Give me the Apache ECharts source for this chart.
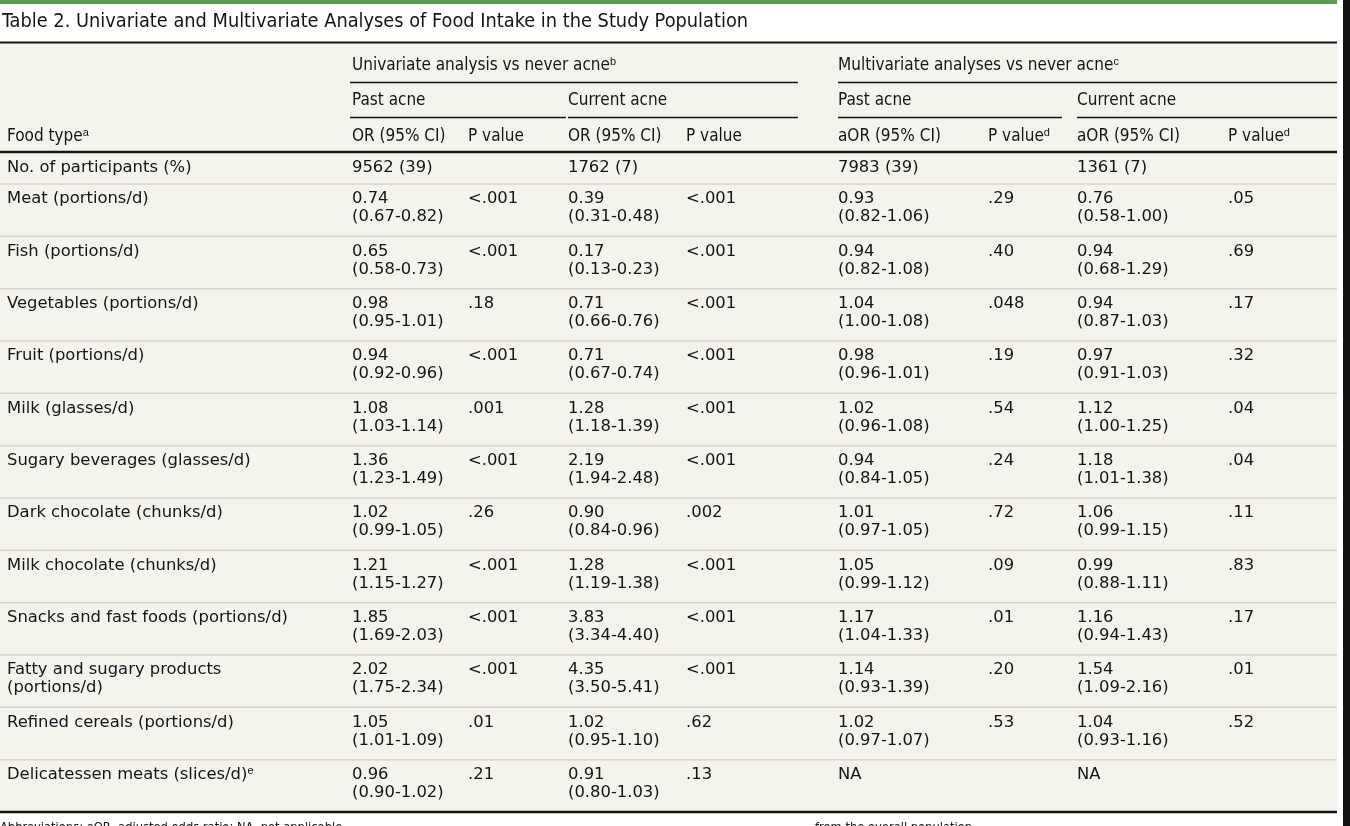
<!DOCTYPE html>
<html><head><meta charset="utf-8">
<script src="https://cdn.jsdelivr.net/npm/echarts@6/dist/echarts.min.js"></script>
<style>html,body{margin:0;padding:0;background:#fff;overflow:hidden}#c{width:1350px;height:826px}</style>
</head><body><div id="c"></div>
<script>
// ---------- data ----------
const title = 'Table 2. Univariate and Multivariate Analyses of Food Intake in the Study Population';
const groupHeaders = ['Univariate analysis vs never acne{sup|b}', 'Multivariate analyses vs never acne{sup|c}'];
const subHeaders = ['Past acne', 'Current acne', 'Past acne', 'Current acne'];
const colHeaders = ['OR (95% CI)', '{it|P} value', 'OR (95% CI)', '{it|P} value', 'aOR (95% CI)', '{it|P} value{sup|d}', 'aOR (95% CI)', '{it|P} value{sup|d}'];
const firstHeader = 'Food type{sup|a}';
const participantsLabel = 'No. of participants (%)';
const participants = ['9562 (39)', '1762 (7)', '7983 (39)', '1361 (7)'];
const foodTypes = [
  'Meat (portions/d)', 'Fish (portions/d)', 'Vegetables (portions/d)', 'Fruit (portions/d)',
  'Milk (glasses/d)', 'Sugary beverages (glasses/d)', 'Dark chocolate (chunks/d)',
  'Milk chocolate (chunks/d)', 'Snacks and fast foods (portions/d)',
  'Fatty and sugary products\n(portions/d)', 'Refined cereals (portions/d)',
  'Delicatessen meats (slices/d){sup|e}'
];
const uniPastOR = ['0.74', '0.65', '0.98', '0.94', '1.08', '1.36', '1.02', '1.21', '1.85', '2.02', '1.05', '0.96'];
const uniPastCI = ['0.67-0.82', '0.58-0.73', '0.95-1.01', '0.92-0.96', '1.03-1.14', '1.23-1.49', '0.99-1.05', '1.15-1.27', '1.69-2.03', '1.75-2.34', '1.01-1.09', '0.90-1.02'];
const uniPastP = ['<.001', '<.001', '.18', '<.001', '.001', '<.001', '.26', '<.001', '<.001', '<.001', '.01', '.21'];
const uniCurOR = ['0.39', '0.17', '0.71', '0.71', '1.28', '2.19', '0.90', '1.28', '3.83', '4.35', '1.02', '0.91'];
const uniCurCI = ['0.31-0.48', '0.13-0.23', '0.66-0.76', '0.67-0.74', '1.18-1.39', '1.94-2.48', '0.84-0.96', '1.19-1.38', '3.34-4.40', '3.50-5.41', '0.95-1.10', '0.80-1.03'];
const uniCurP = ['<.001', '<.001', '<.001', '<.001', '<.001', '<.001', '.002', '<.001', '<.001', '<.001', '.62', '.13'];
const mulPastOR = ['0.93', '0.94', '1.04', '0.98', '1.02', '0.94', '1.01', '1.05', '1.17', '1.14', '1.02', 'NA'];
const mulPastCI = ['0.82-1.06', '0.82-1.08', '1.00-1.08', '0.96-1.01', '0.96-1.08', '0.84-1.05', '0.97-1.05', '0.99-1.12', '1.04-1.33', '0.93-1.39', '0.97-1.07', ''];
const mulPastP = ['.29', '.40', '.048', '.19', '.54', '.24', '.72', '.09', '.01', '.20', '.53', ''];
const mulCurOR = ['0.76', '0.94', '0.94', '0.97', '1.12', '1.18', '1.06', '0.99', '1.16', '1.54', '1.04', 'NA'];
const mulCurCI = ['0.58-1.00', '0.68-1.29', '0.87-1.03', '0.91-1.03', '1.00-1.25', '1.01-1.38', '0.99-1.15', '0.88-1.11', '0.94-1.43', '1.09-2.16', '0.93-1.16', ''];
const mulCurP = ['.05', '.69', '.17', '.32', '.04', '.04', '.11', '.83', '.17', '.01', '.52', ''];
const footLeft = 'Abbreviations: aOR, adjusted odds ratio; NA, not applicable.';
const footRight = 'from the overall population.';

// ---------- layout / style ----------
const ORs = [uniPastOR, uniCurOR, mulPastOR, mulCurOR];
const CIs = [uniPastCI, uniCurCI, mulPastCI, mulCurCI];
const Ps = [uniPastP, uniCurP, mulPastP, mulCurP];
const COLS = [352, 468, 568, 686, 838, 988, 1077, 1228];
const TABLE_R = 1337;
const INK = '#151515';
const BODY_FONT = '"DejaVu Sans", sans-serif';
const BODY_SIZE = 16.4;
const HEAD_FONT = '"DejaVu Sans Condensed", "Liberation Sans Narrow", sans-serif';
const SEP = '#d8d6cb';
const rich = {
  sup: { fontSize: 11, lineHeight: 7, verticalAlign: 'top', fill: INK },
  it: { fontStyle: 'italic', fill: INK }
};

function headText(x, y, text, size) {
  return { type: 'text', x: x, y: y, z: 10,
    style: { text: text, fill: INK, fontSize: size || 17, fontFamily: HEAD_FONT,
      align: 'left', verticalAlign: 'middle', lineHeight: 20, rich: rich } };
}
function hline(x1, x2, y, w, color) {
  return { type: 'line', z: 10, shape: { x1: x1, y1: y, x2: x2, y2: y },
    style: { stroke: color || INK, lineWidth: w || 1.5 } };
}

const graphics = [
  { type: 'rect', z: 0, shape: { x: 1343, y: 0, width: 7, height: 826 }, style: { fill: '#111' } },
  { type: 'rect', z: 0, shape: { x: 0, y: 0, width: TABLE_R, height: 4 }, style: { fill: '#5b9a4f' } },
  { type: 'rect', z: 0, shape: { x: 0, y: 43, width: TABLE_R, height: 769 }, style: { fill: '#f4f3ec' } },
  headText(2, 22, title, 19.8),
  hline(0, TABLE_R, 42.5, 2.2),
  headText(352, 66, groupHeaders[0]),
  headText(838, 66, groupHeaders[1]),
  hline(350, 798, 82.5, 1.5),
  hline(838, TABLE_R, 82.5, 1.5),
  headText(352, 101, subHeaders[0]),
  headText(568, 101, subHeaders[1]),
  headText(838, 101, subHeaders[2]),
  headText(1077, 101, subHeaders[3]),
  hline(350, 566, 117.5, 1.5),
  hline(568, 798, 117.5, 1.5),
  hline(838, 1062, 117.5, 1.5),
  hline(1077, TABLE_R, 117.5, 1.5),
  headText(7, 137, firstHeader),
  hline(0, TABLE_R, 152, 2.4),
  { type: 'text', x: 7, y: 168, z: 10, style: { text: participantsLabel, fill: INK, fontSize: BODY_SIZE, fontFamily: BODY_FONT, verticalAlign: 'middle' } },
  hline(0, TABLE_R, 812, 2.4),
  { type: 'text', x: 0, y: 821, z: 10, style: { text: footLeft, fill: INK, fontSize: 12.8, fontFamily: HEAD_FONT, verticalAlign: 'top' } },
  { type: 'text', x: 815, y: 821, z: 10, style: { text: footRight, fill: INK, fontSize: 12.8, fontFamily: HEAD_FONT, verticalAlign: 'top' } }
];
colHeaders.forEach(function (t, k) { graphics.push(headText(COLS[k], 137, t)); });
participants.forEach(function (t, k) {
  graphics.push({ type: 'text', x: COLS[2 * k], y: 168, z: 10,
    style: { text: t, fill: INK, fontSize: BODY_SIZE, fontFamily: BODY_FONT, verticalAlign: 'middle' } });
});
graphics.push(hline(0, TABLE_R, 184, 1.5, SEP));

function renderRow(params, api) {
  const i = api.value(1);
  const c = api.coord([0, i]);
  const h = api.size([0, 1])[1];
  const top = c[1] - h / 2;
  const txt = function (x, t) {
    return { type: 'text', x: x, y: top + 6,
      style: { text: t, fill: INK, fontSize: BODY_SIZE, fontFamily: BODY_FONT, lineHeight: 18,
        align: 'left', verticalAlign: 'top', rich: rich } };
  };
  const children = [txt(7, foodTypes[i])];
  for (let g = 0; g < 4; g++) {
    const or = ORs[g][i], ci = CIs[g][i];
    children.push(txt(COLS[2 * g], ci ? or + '\n(' + ci + ')' : or));
    if (Ps[g][i]) children.push(txt(COLS[2 * g + 1], Ps[g][i]));
  }
  if (i < foodTypes.length - 1) {
    children.push({ type: 'line', shape: { x1: 0, y1: top + h, x2: TABLE_R, y2: top + h },
      style: { stroke: SEP, lineWidth: 1.5 } });
  }
  return { type: 'group', children: children };
}

const chart = echarts.init(document.getElementById('c'), null, { renderer: 'canvas' });
chart.setOption({
  animation: false,
  backgroundColor: '#ffffff',
  grid: { left: 0, top: 184, width: 1350, height: 628, containLabel: false },
  xAxis: { type: 'value', min: 0, max: 1350, show: false },
  yAxis: { type: 'category', inverse: true, data: foodTypes.map(function (f, i) { return String(i); }), show: false },
  graphic: { elements: graphics },
  series: [{
    type: 'custom', clip: false, silent: true,
    encode: { x: 0, y: 1 },
    data: foodTypes.map(function (f, i) { return [0, i]; }),
    renderItem: renderRow
  }]
});
</script>
</body></html>
